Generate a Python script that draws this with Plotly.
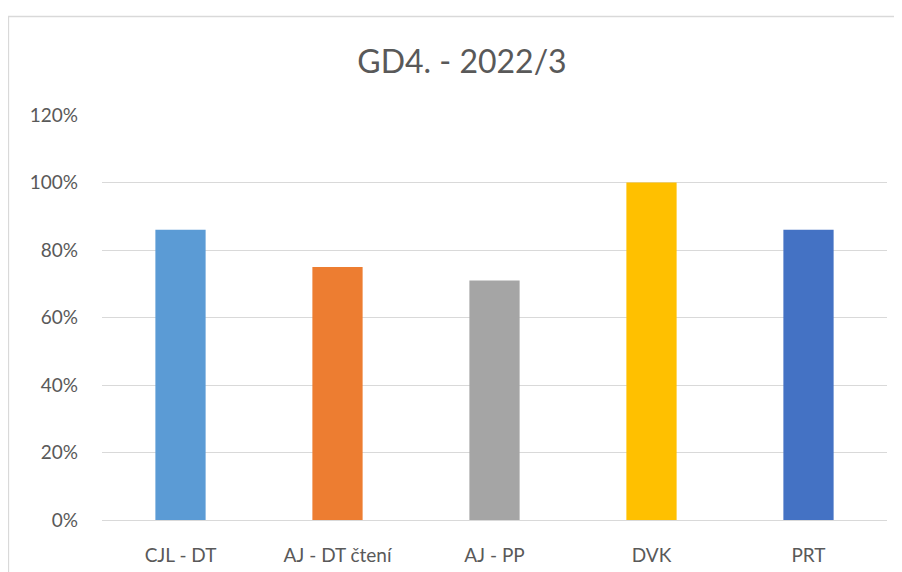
import plotly.graph_objects as go

categories = ["CJL - DT", "AJ - DT čtení", "AJ - PP", "DVK", "PRT"]
values = [0.86, 0.75, 0.71, 1.00, 0.86]
colors = ["#5B9BD5", "#ED7D31", "#A5A5A5", "#FFC000", "#4472C4"]
title_text = "GD4. - 2022/3"

OFF = 8  # page body margin
W, H = 902 - OFF, 572 - OFF
L, R, T, B = 102 - OFF, 887 - OFF, 115 - OFF, 520 - OFF
pw, ph = R - L, B - T

def px(x):
    return (x - OFF - L) / pw

def py(y):
    return (B - (y - OFF)) / ph

fig = go.Figure(go.Bar(x=categories, y=values, marker=dict(color=colors, line=dict(width=0)), width=0.32))

fig.update_layout(
    width=W, height=H,
    margin=dict(l=L, r=W - R, t=T, b=H - B, pad=0, autoexpand=False),
    paper_bgcolor="white", plot_bgcolor="white",
    font=dict(family="Lato", color="#595959"),
    showlegend=False,
    bargap=0.68,
    title=dict(text=title_text, x=px(462), xref="paper", xanchor="center",
               y=1 - (62 - OFF) / H, yref="container", yanchor="middle",
               font=dict(size=32, color="#595959", family="Lato")),
    shapes=[dict(type="rect", xref="paper", yref="paper",
                 x0=px(8.5), x1=px(930), y0=py(590), y1=py(16.5),
                 line=dict(color="#D9D9D9", width=1.3), layer="below")],
)
fig.update_yaxes(range=[0, 1.2], dtick=0.2, tickformat=".0%", showgrid=True,
                 gridcolor="#D9D9D9", gridwidth=1, zeroline=True, zerolinecolor="#D9D9D9",
                 zerolinewidth=1, showline=False, ticks="", ticklabelstandoff=23,
                 automargin=False, tickfont=dict(size=19, color="#595959"))
fig.update_xaxes(showline=False, ticks="", ticklabelstandoff=22, automargin=False,
                 tickfont=dict(size=19, color="#595959"))

fig.write_html("out.html")
